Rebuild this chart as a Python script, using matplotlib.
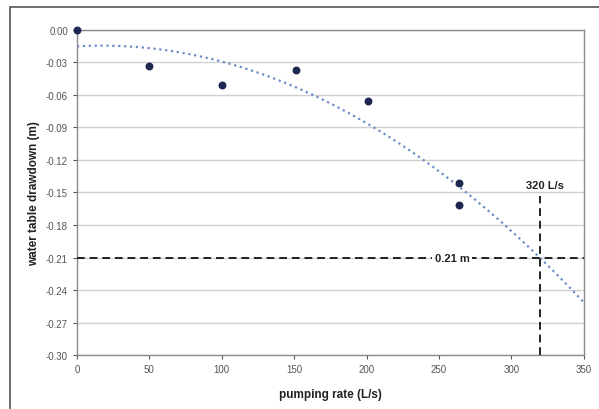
import matplotlib.pyplot as plt
import numpy as np
from matplotlib.patches import Rectangle

plt.rcParams['font.family'] = ['Liberation Sans', 'DejaVu Sans']

# measured pumping rate vs drawdown
pumping_rate = [0, 50, 100, 151, 201, 264, 264]
drawdown = [0.0, -0.033, -0.051, -0.037, -0.066, -0.141, -0.162]

target_rate = 320
target_drawdown = -0.21

x_ticks = [0, 50, 100, 150, 200, 250, 300, 350]
y_ticks = [0.00, -0.03, -0.06, -0.09, -0.12, -0.15, -0.18, -0.21, -0.24, -0.27, -0.30]

MARKER_COLOR = '#1c2850'
TREND_COLOR = '#6a8cc8'
GRID_COLOR = '#d0d0d0'
SPINE_COLOR = '#8a8a8a'
TICK_COLOR = '#555555'

fig = plt.figure(figsize=(5.99, 4.10), dpi=100)
ax = fig.add_axes([0.1285, 0.1317, 0.846, 0.7927])

# outer frame of the figure
fig.patches.append(Rectangle((10 / 599, -0.01), 1.0, 1 - 8 / 410 + 0.01,
                             transform=fig.transFigure, fill=False,
                             edgecolor='#555555', linewidth=1.2))

# second order trend line like the spreadsheet one
coef = np.polyfit(pumping_rate, drawdown, 2)
xs = np.linspace(0, 350, 200)
ax.plot(xs, np.polyval(coef, xs), linestyle=':', color=TREND_COLOR, linewidth=1.6, zorder=2)

ax.scatter(pumping_rate, drawdown, s=22, color=MARKER_COLOR, zorder=4, clip_on=False)

# reading lines
ax.plot([0, 350], [target_drawdown, target_drawdown], '--', color='#222222', linewidth=1.4, dashes=(4, 2.5), zorder=3)
ax.plot([target_rate, target_rate], [-0.30, -0.153], '--', color='#222222', linewidth=1.4, dashes=(4, 2.5), zorder=3)
ax.text(259, target_drawdown, '0.21 m', ha='center', va='center', fontsize=8, fontweight='bold',
        color='#222222', bbox=dict(facecolor='white', edgecolor='none', pad=2), zorder=5)
ax.text(target_rate + 3, -0.143, '320 L/s', ha='center', va='center', fontsize=8, fontweight='bold',
        color='#222222', zorder=5)

ax.set_xlim(0, 350)
ax.set_ylim(-0.30, 0.0)
ax.set_xticks(x_ticks)
ax.set_yticks(y_ticks)
ax.set_yticklabels([f'{v:.2f}' for v in y_ticks])
ax.yaxis.grid(True, color=GRID_COLOR, linewidth=1.0)
ax.set_axisbelow(True)

for side in ['left', 'right', 'top', 'bottom']:
    ax.spines[side].set_color(SPINE_COLOR)
    ax.spines[side].set_linewidth(1.0)
ax.tick_params(axis='both', labelsize=7, colors=TICK_COLOR, length=3, width=0.8)

ax.set_xlabel('pumping rate (L/s)', fontsize=8.5, fontweight='bold', color='#222222', labelpad=10)
ax.set_ylabel('water table drawdown (m)', fontsize=8.5, fontweight='bold', color='#222222', labelpad=4)

fig.savefig('out.png', dpi=100)
